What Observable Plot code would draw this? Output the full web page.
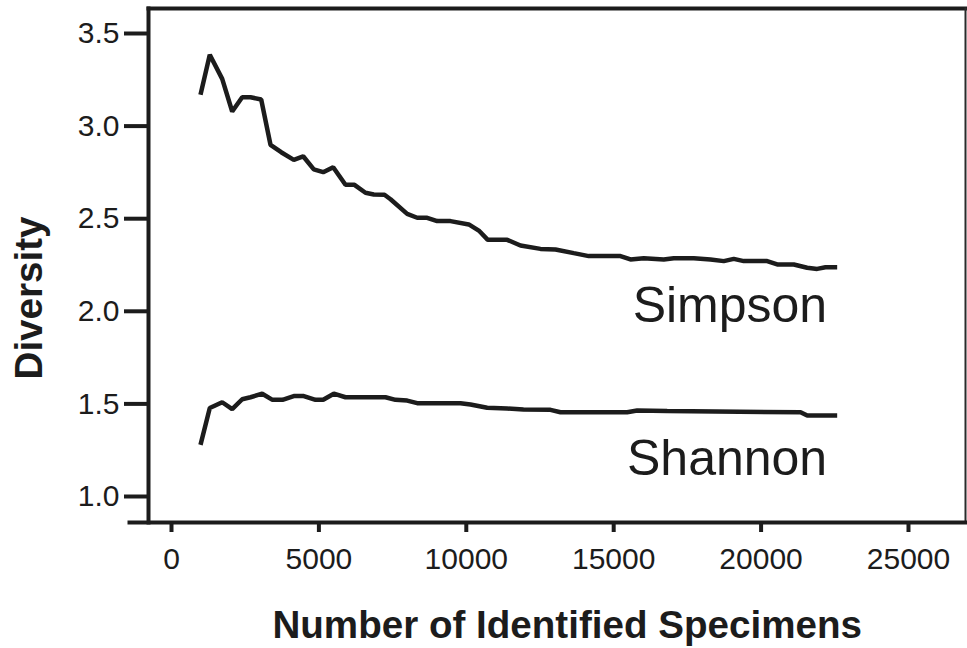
<!DOCTYPE html>
<html><head><meta charset="utf-8">
<script src="https://cdn.jsdelivr.net/npm/d3@7"></script>
<script src="https://cdn.jsdelivr.net/npm/@observablehq/plot@0.6"></script>
<style>html,body{margin:0;padding:0;background:#fff;}</style>
</head><body><div id="chart"></div>
<script>
const simpsonX = [984,1299,1720,2059,2398,2680,3043,3358,3721,4148,4467,4827,5146,5485,5902,6207,6580,6862,7225,7430,7995,8334,8673,9013,9464,10085,10424,10729,11387,11838,12516,13025,13646,14155,15230,15569,16020,16699,17038,17717,18283,18734,19073,19413,20206,20546,21109,21563,21903,22184,22581];
const simpsonY = [3.169,3.385,3.255,3.079,3.156,3.156,3.144,2.899,2.859,2.818,2.837,2.766,2.751,2.778,2.683,2.683,2.640,2.631,2.629,2.605,2.526,2.505,2.505,2.487,2.487,2.469,2.436,2.386,2.386,2.355,2.337,2.334,2.314,2.298,2.298,2.280,2.287,2.280,2.287,2.287,2.280,2.271,2.283,2.271,2.271,2.253,2.253,2.235,2.229,2.238,2.238];
const shannonX = [984,1299,1720,2059,2398,2680,3077,3426,3765,4148,4488,4885,5146,5506,5902,7259,7598,7995,8334,9803,10142,10709,11387,11940,12856,13195,15457,15797,16814,21338,21565,22581];
const shannonY = [1.279,1.478,1.509,1.472,1.525,1.536,1.555,1.522,1.522,1.542,1.542,1.522,1.522,1.555,1.536,1.536,1.522,1.518,1.504,1.504,1.497,1.479,1.475,1.470,1.468,1.455,1.455,1.464,1.461,1.455,1.437,1.437];
const seriesNames = ["Simpson", "Shannon"];
const xTicks = [0, 5000, 10000, 15000, 20000, 25000];
const yTicks = [1.0, 1.5, 2.0, 2.5, 3.0, 3.5];
const xTitle = "Number of Identified Specimens";
const yTitle = "Diversity";

const simpson = simpsonX.map((x, i) => ({x, y: simpsonY[i], series: seriesNames[0]}));
const shannon = shannonX.map((x, i) => ({x, y: shannonY[i], series: seriesNames[1]}));
const ink = "#1c1c1c";

const chart = Plot.plot({
  width: 967,
  height: 648,
  marginLeft: 148,
  marginRight: 2,
  marginTop: 8,
  marginBottom: 126,
  style: {fontFamily: "'Liberation Sans', Arial, sans-serif", color: ink, background: "#fff", fontSize: "30px"},
  x: {domain: [-780, 26934]},
  y: {domain: [0.8596, 3.635]},
  marks: [
    Plot.frame({anchor: "top", stroke: ink, strokeWidth: 4, strokeLinecap: "square"}),
    Plot.frame({anchor: "left", stroke: ink, strokeWidth: 4, strokeLinecap: "square"}),
    Plot.frame({anchor: "right", stroke: "#2a2a2a", strokeWidth: 2}),
    Plot.frame({anchor: "bottom", stroke: ink, strokeWidth: 4, insetLeft: -19, insetRight: -1}),
    Plot.axisY({ticks: yTicks, anchor: "left", tickSize: 24, tickPadding: 5, strokeWidth: 4, fontSize: 30, tickFormat: d3.format(".1f"), label: null}),
    Plot.axisX({ticks: xTicks, anchor: "bottom", tickSize: 10, tickPadding: 15, strokeWidth: 4, fontSize: 30, tickFormat: d3.format("d"), label: null}),
    Plot.line(simpson, {x: "x", y: "y", stroke: ink, strokeWidth: 4.5, strokeLinejoin: "miter", strokeLinecap: "butt"}),
    Plot.line(shannon, {x: "x", y: "y", stroke: ink, strokeWidth: 4.5, strokeLinejoin: "miter", strokeLinecap: "butt"}),
    Plot.text([simpson[simpson.length - 1]], {x: "x", y: "y", text: "series", textAnchor: "end", lineAnchor: "bottom", dx: -10, dy: 54.5, fontSize: 50, fill: ink}),
    Plot.text([shannon[shannon.length - 1]], {x: "x", y: "y", text: "series", textAnchor: "end", lineAnchor: "bottom", dx: -10, dy: 59, fontSize: 50, fill: ink}),
    Plot.text([yTitle], {frameAnchor: "left", text: d => d, rotate: -90, textAnchor: "middle", lineAnchor: "bottom", dx: -106.3, dy: 32.5, fontSize: 38.6, fontWeight: "bold", fill: ink}),
    Plot.text([xTitle], {frameAnchor: "bottom", text: d => d, textAnchor: "middle", lineAnchor: "bottom", dx: 10.2, dy: 115, fontSize: 38.6, fontWeight: "bold", fill: ink})
  ]
});
document.getElementById("chart").appendChild(chart);
</script>
</body></html>
